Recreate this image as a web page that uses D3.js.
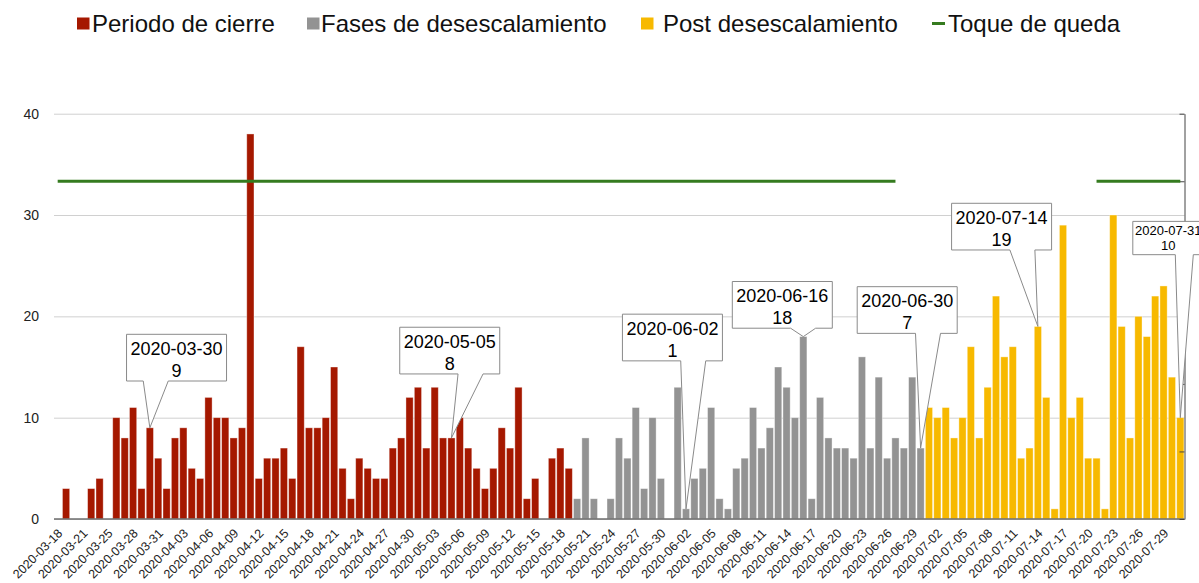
<!DOCTYPE html>
<html>
<head>
    <meta charset="utf-8">
    <script src="https://d3js.org/d3.v7.min.js"></script>
    <style>
        body { margin: 0; background: #fff; }
        svg { display: block; font-family: "Helvetica Neue", Helvetica, Arial, "Liberation Sans", sans-serif; }
    </style>
</head>
<body>
    <svg id="chart" width="1199" height="583"></svg>

    <script>
        // Categories (2020-03-22 is not in the source data)
        const dates = [
            "2020-03-18", "2020-03-19", "2020-03-20", "2020-03-21", "2020-03-23", "2020-03-24", "2020-03-25",
            "2020-03-26", "2020-03-27", "2020-03-28", "2020-03-29", "2020-03-30", "2020-03-31",
            "2020-04-01", "2020-04-02", "2020-04-03", "2020-04-04", "2020-04-05", "2020-04-06", "2020-04-07",
            "2020-04-08", "2020-04-09", "2020-04-10", "2020-04-11", "2020-04-12", "2020-04-13", "2020-04-14",
            "2020-04-15", "2020-04-16", "2020-04-17", "2020-04-18", "2020-04-19", "2020-04-20", "2020-04-21",
            "2020-04-22", "2020-04-23", "2020-04-24", "2020-04-25", "2020-04-26", "2020-04-27", "2020-04-28",
            "2020-04-29", "2020-04-30",
            "2020-05-01", "2020-05-02", "2020-05-03", "2020-05-04", "2020-05-05", "2020-05-06", "2020-05-07",
            "2020-05-08", "2020-05-09", "2020-05-10", "2020-05-11", "2020-05-12", "2020-05-13", "2020-05-14",
            "2020-05-15", "2020-05-16", "2020-05-17", "2020-05-18", "2020-05-19", "2020-05-20", "2020-05-21",
            "2020-05-22", "2020-05-23", "2020-05-24", "2020-05-25", "2020-05-26", "2020-05-27", "2020-05-28",
            "2020-05-29", "2020-05-30", "2020-05-31",
            "2020-06-01", "2020-06-02", "2020-06-03", "2020-06-04", "2020-06-05", "2020-06-06", "2020-06-07",
            "2020-06-08", "2020-06-09", "2020-06-10", "2020-06-11", "2020-06-12", "2020-06-13", "2020-06-14",
            "2020-06-15", "2020-06-16", "2020-06-17", "2020-06-18", "2020-06-19", "2020-06-20", "2020-06-21",
            "2020-06-22", "2020-06-23", "2020-06-24", "2020-06-25", "2020-06-26", "2020-06-27", "2020-06-28",
            "2020-06-29", "2020-06-30",
            "2020-07-01", "2020-07-02", "2020-07-03", "2020-07-04", "2020-07-05", "2020-07-06", "2020-07-07",
            "2020-07-08", "2020-07-09", "2020-07-10", "2020-07-11", "2020-07-12", "2020-07-13", "2020-07-14",
            "2020-07-15", "2020-07-16", "2020-07-17", "2020-07-18", "2020-07-19", "2020-07-20", "2020-07-21",
            "2020-07-22", "2020-07-23", "2020-07-24", "2020-07-25", "2020-07-26", "2020-07-27", "2020-07-28",
            "2020-07-29", "2020-07-30", "2020-07-31"
        ];

        // Daily values, one per date above
        const cases = [
            0, 3, 0, 0, 3, 4, 0, 10, 8, 11, 3, 9, 6,
            3, 8, 9, 5, 4, 12, 10, 10, 8, 9, 38, 4, 6, 6, 7, 4, 17, 9, 9, 10, 15, 5, 2, 6, 5, 4, 4, 7, 8, 12,
            13, 7, 13, 8, 8, 10, 7, 5, 3, 5, 9, 7, 13, 2, 4, 0, 6, 7, 5, 2, 8, 2, 0, 2, 8, 6, 11, 3, 10, 4, 0,
            13, 1, 4, 5, 11, 2, 1, 5, 6, 11, 7, 9, 15, 13, 10, 18, 2, 12, 8, 7, 7, 6, 16, 7, 14, 6, 8, 7, 14, 7,
            11, 10, 11, 8, 10, 17, 8, 13, 22, 16, 17, 6, 7, 19, 12, 1, 29, 10, 12, 6, 6, 1, 30, 19, 8, 20, 18, 22, 23, 14, 10
        ];

        const phaseNames = ["Periodo de cierre", "Fases de desescalamiento", "Post desescalamiento"];
        const phaseStarts = ["2020-03-18", "2020-05-20", "2020-07-01"];

        const curfewName = "Toque de queda";
        const curfewPeriods = [["2020-03-18", "2020-06-27"], ["2020-07-21", "2020-07-31"]];
        const curfewLevel = 1;

        const yTicks = [0, 10, 20, 30, 40];
        const y2Ticks = [0, 0.2, 0.4, 0.6, 0.8, 1, 1.2];

        const calloutDates = ["2020-03-30", "2020-05-05", "2020-06-02", "2020-06-16", "2020-06-30", "2020-07-14", "2020-07-31"];

        // ---- styling / layout ----
        const phaseColors = ["#a51800", "#939393", "#f7b900"];
        const curfewColor = "#357b1f";

        const plotLeft = 54, plotRight = 1184.5, plotTop = 113.7, plotBottom = 519;

        // callout box placement relative to the bar top it points at
        const calloutLayout = {
            "2020-03-30": { dx: 26.7, rise: 46.8, side: "left" },
            "2020-05-05": { dx: -1.7, rise: 64, side: "right" },
            "2020-06-02": { dx: -13.6, rise: 148, side: "right" },
            "2020-06-16": { dx: -21, rise: 8.4, side: "right" },
            "2020-06-30": { dx: -13.4, rise: 114.7, side: "right" },
            "2020-07-14": { dx: -36.3, rise: 76.5, side: "right" },
            "2020-07-31": { dx: -12, rise: 163, side: "right", small: true }
        };

        const svg = d3.select("#chart");

        const x = d3.scaleBand()
            .domain(dates)
            .range([53.5, plotRight])
            .paddingInner(0.14)
            .paddingOuter(0.07);
        const bw = x.bandwidth();
        const xc = d => x(d) + bw / 2;

        const y = d3.scaleLinear().domain([0, 40]).range([plotBottom, plotTop]);
        const y2 = d3.scaleLinear().domain([0, 1.2]).range([plotBottom, plotTop]);

        const phaseOf = d => d3.bisectRight(phaseStarts, d) - 1;

        const rows = dates.map((d, i) => ({ date: d, value: cases[i], phase: phaseOf(d) }));

        // grid + left labels
        const gy = svg.append("g")
            .attr("transform", `translate(${plotLeft},0)`)
            .call(d3.axisLeft(y).tickValues(yTicks).tickSize(-(plotRight - plotLeft)).tickPadding(15).tickFormat(d3.format("d")));
        gy.select(".domain").remove();
        gy.selectAll(".tick line").attr("stroke", "#d0d0d0");
        gy.selectAll(".tick text")
            .attr("fill", "#222")
            .style("font-size", "14px")
            .style("font-family", "inherit");

        // bars
        svg.append("g")
            .selectAll("rect")
            .data(rows.filter(r => r.value > 0))
            .join("rect")
                .attr("x", d => x(d.date))
                .attr("width", bw)
                .attr("y", d => y(d.value))
                .attr("height", d => y(0) - y(d.value))
                .attr("fill", d => phaseColors[d.phase])
                .attr("stroke", "#fff")
                .attr("stroke-opacity", 0.45)
                .attr("stroke-width", 0.8);

        // baseline
        svg.append("line")
            .attr("x1", plotLeft).attr("x2", plotRight)
            .attr("y1", y(0)).attr("y2", y(0))
            .attr("stroke", "#6e6e6e")
            .attr("stroke-width", 1.5);

        // right axis (secondary, labels fall outside the picture)
        const gy2 = svg.append("g")
            .attr("transform", `translate(${plotRight},0)`)
            .call(d3.axisLeft(y2).tickValues(y2Ticks).tickSize(5).tickSizeOuter(0).tickFormat(""));
        gy2.select(".domain").attr("stroke", "#444");
        gy2.selectAll(".tick line").attr("stroke", "#444");

        // curfew line
        svg.append("g")
            .selectAll("line")
            .data(curfewPeriods)
            .join("line")
                .attr("x1", d => xc(d[0]))
                .attr("x2", d => xc(d[1]))
                .attr("y1", y2(curfewLevel))
                .attr("y2", y2(curfewLevel))
                .attr("stroke", curfewColor)
                .attr("stroke-width", 3);

        // x labels, every third category
        svg.append("g")
            .selectAll("text")
            .data(dates.filter((d, i) => i % 3 === 0))
            .join("text")
                .attr("transform", d => `translate(${xc(d) + 2.5},531) rotate(-45)`)
                .attr("dy", "0.35em")
                .attr("text-anchor", "end")
                .attr("fill", "#222")
                .style("font-size", "12.5px")
                .text(d => d);

        // callouts
        const gc = svg.append("g");
        calloutDates.forEach(d => {
            const L = calloutLayout[d];
            const v = cases[dates.indexOf(d)];
            const tx = xc(d), ty = y(v);
            const w = L.small ? 71 : 100, h = L.small ? 33.3 : 46.7;
            const cx = tx + L.dx;
            const b = ty - L.rise, t = b - h;
            const l = cx - w / 2, r = cx + w / 2;
            let b1, b2;
            if (L.small) { b1 = cx + 7; b2 = cx + 25; }
            else if (L.side === "left") { b1 = cx - 33.3; b2 = cx - 8.3; }
            else { b1 = cx + 8.3; b2 = cx + 33.3; }
            const p = d3.path();
            p.moveTo(l, t); p.lineTo(r, t); p.lineTo(r, b); p.lineTo(b2, b);
            p.lineTo(tx, ty); p.lineTo(b1, b); p.lineTo(l, b); p.closePath();
            gc.append("path")
                .attr("d", p.toString())
                .attr("fill", "#fff")
                .attr("stroke", "#8a8a8a")
                .attr("stroke-width", 1);
            const fs = L.small ? 13 : 18;
            gc.append("text")
                .attr("x", cx).attr("y", t + (L.small ? 13.3 : 20.7))
                .attr("text-anchor", "middle")
                .style("font-size", fs + "px")
                .text(d);
            gc.append("text")
                .attr("x", cx).attr("y", t + (L.small ? 29 : 42.4))
                .attr("text-anchor", "middle")
                .style("font-size", fs + "px")
                .text(v);
        });

        // legend
        const legendItems = phaseNames.map((n, i) => ({ name: n, color: phaseColors[i], line: false }))
            .concat([{ name: curfewName, color: curfewColor, line: true }]);
        const swatchX = [77, 307, 641, 932];
        const textX = [92, 321, 663, 948];
        const lg = svg.append("g");
        legendItems.forEach((it, i) => {
            if (it.line) {
                lg.append("rect").attr("x", swatchX[i]).attr("y", 22).attr("width", 13).attr("height", 3).attr("fill", it.color);
            } else {
                lg.append("rect").attr("x", swatchX[i]).attr("y", 17.5).attr("width", 12.5).attr("height", 12).attr("fill", it.color);
            }
            lg.append("text")
                .attr("x", textX[i]).attr("y", 31.5)
                .style("font-size", "24px")
                .attr("fill", "#111")
                .text(it.name);
        });
    </script>
</body>
</html>
